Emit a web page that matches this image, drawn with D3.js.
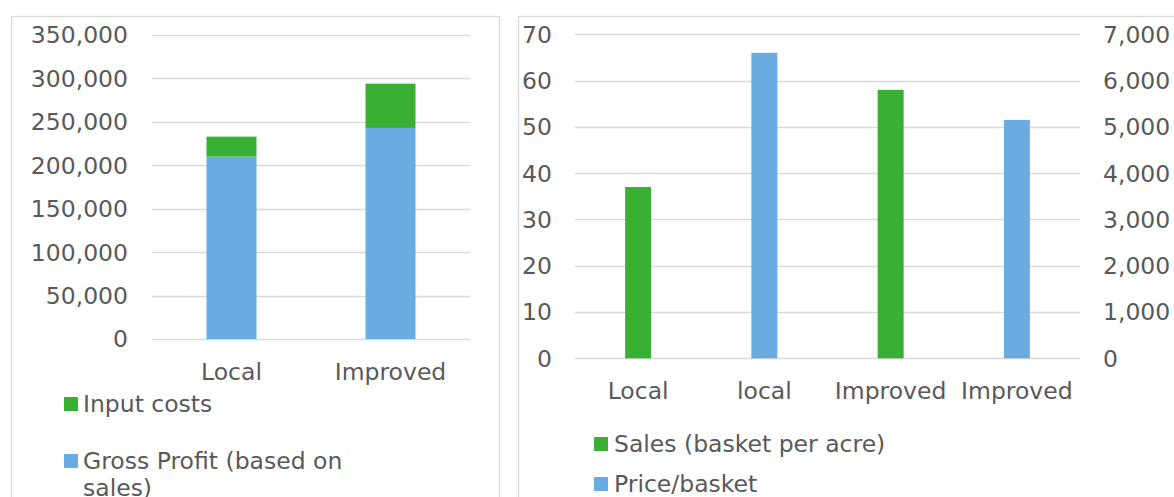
<!DOCTYPE html>
<html>
<head>
<meta charset="utf-8">
<script src="https://cdn.jsdelivr.net/npm/d3@7"></script>
<style>
  html, body { margin: 0; padding: 0; background: #ffffff; }
  svg { display: block; }
  text { font-family: "DejaVu Sans", Verdana, sans-serif; fill: #595959; }
</style>
</head>
<body>
<svg id="chart" width="1174" height="497"></svg>
<script>
// ---- Data: left chart (stacked) ----
const leftCategories = ["Local", "Improved"];
const grossProfit = [210000, 243000];
const inputCosts = [23000, 51000];
const leftTicks = [0, 50000, 100000, 150000, 200000, 250000, 300000, 350000];

// ---- Data: right chart (dual axis) ----
const rightCategories = ["Local", "local", "Improved", "Improved"];
const salesBaskets = [37, null, 58, null];          // primary axis
const pricePerBasket = [null, 6600, null, 5150];    // secondary axis
const rightTicksPrimary = [0, 10, 20, 30, 40, 50, 60, 70];
const rightTicksSecondary = [0, 1000, 2000, 3000, 4000, 5000, 6000, 7000];

const GREEN = "#37b034";
const BLUE = "#6aace2";
const GRID = "#d9d9d9";
const FS = "23.5px";
const fmt = d3.format(",");

const svg = d3.select("#chart");

// Panel borders
svg.append("rect").attr("x", 11.5).attr("y", 16.5).attr("width", 488).attr("height", 500)
  .attr("fill", "none").attr("stroke", GRID).attr("stroke-width", 1.3);
svg.append("rect").attr("x", 518.5).attr("y", 16.5).attr("width", 700).attr("height", 500)
  .attr("fill", "none").attr("stroke", GRID).attr("stroke-width", 1.3);

// ================= LEFT CHART =================
(function () {
  const x0 = 152, x1 = 470, yTop = 35, yBot = 339;
  const y = d3.scaleLinear().domain([0, 350000]).range([yBot, yTop]);
  const x = d3.scaleBand().domain(leftCategories).range([x0, x1])
    .paddingInner(1 - 50 / 159).paddingOuter((1 - 50 / 159) / 2);
  const g = svg.append("g");

  g.selectAll("line.grid").data(leftTicks).join("line")
    .attr("x1", x0).attr("x2", x1)
    .attr("y1", d => Math.round(y(d)) + 0.5).attr("y2", d => Math.round(y(d)) + 0.5)
    .attr("stroke", GRID).attr("stroke-width", 1.5);

  g.selectAll("text.ytick").data(leftTicks).join("text")
    .attr("x", 128).attr("y", d => y(d)).attr("dy", "0.36em")
    .attr("text-anchor", "end").style("font-size", FS)
    .text(d => fmt(d));

  const stackData = leftCategories.map((c, i) => ({ cat: c, gp: grossProfit[i], ic: inputCosts[i] }));
  const stack = d3.stack().keys(["gp", "ic"])(stackData);
  const colors = { gp: BLUE, ic: GREEN };
  stack.forEach(layer => {
    g.selectAll(null).data(layer).join("rect")
      .attr("x", d => x(d.data.cat))
      .attr("width", x.bandwidth())
      .attr("y", d => y(d[1]))
      .attr("height", d => y(d[0]) - y(d[1]))
      .attr("fill", colors[layer.key]);
  });

  g.selectAll("text.xtick").data(leftCategories).join("text")
    .attr("x", d => x(d) + x.bandwidth() / 2).attr("y", 380)
    .attr("text-anchor", "middle").style("font-size", FS)
    .text(d => d);

  const leg = [
    { label: ["Input costs"], color: GREEN, y: 397 },
    { label: ["Gross Profit (based on", "sales)"], color: BLUE, y: 454 }
  ];
  leg.forEach(l => {
    g.append("rect").attr("x", 64).attr("y", l.y).attr("width", 14).attr("height", 14).attr("fill", l.color);
    l.label.forEach((t, j) => {
      g.append("text").attr("x", 83).attr("y", l.y + 14.5 + j * 27)
        .style("font-size", FS).text(t);
    });
  });
})();

// ================= RIGHT CHART =================
(function () {
  const x0 = 575, x1 = 1080, yTop = 34.3, yBot = 358.3;
  const yL = d3.scaleLinear().domain([0, 70]).range([yBot, yTop]);
  const yR = d3.scaleLinear().domain([0, 7000]).range([yBot, yTop]);
  const step = (x1 - x0) / rightCategories.length;
  const idx = rightCategories.map((c, i) => i);
  const x = d3.scaleBand().domain(idx).range([x0, x1])
    .paddingInner(1 - 26 / step).paddingOuter((1 - 26 / step) / 2);
  const g = svg.append("g");

  g.selectAll("line.grid").data(rightTicksPrimary).join("line")
    .attr("x1", x0).attr("x2", x1)
    .attr("y1", d => Math.round(yL(d)) + 0.5).attr("y2", d => Math.round(yL(d)) + 0.5)
    .attr("stroke", GRID).attr("stroke-width", 1.5);

  g.selectAll("text.yl").data(rightTicksPrimary).join("text")
    .attr("x", 552).attr("y", d => yL(d)).attr("dy", "0.36em")
    .attr("text-anchor", "end").style("font-size", FS)
    .text(d => fmt(d));

  g.selectAll("text.yr").data(rightTicksSecondary).join("text")
    .attr("x", 1103).attr("y", d => yR(d)).attr("dy", "0.36em")
    .attr("text-anchor", "start").style("font-size", FS)
    .text(d => fmt(d));

  g.selectAll("rect.sales").data(idx.filter(i => salesBaskets[i] != null)).join("rect")
    .attr("x", i => x(i)).attr("width", x.bandwidth())
    .attr("y", i => yL(salesBaskets[i])).attr("height", i => yBot - yL(salesBaskets[i]))
    .attr("fill", GREEN);

  g.selectAll("rect.price").data(idx.filter(i => pricePerBasket[i] != null)).join("rect")
    .attr("x", i => x(i)).attr("width", x.bandwidth())
    .attr("y", i => yR(pricePerBasket[i])).attr("height", i => yBot - yR(pricePerBasket[i]))
    .attr("fill", BLUE);

  g.selectAll("text.xtick").data(idx).join("text")
    .attr("x", i => x(i) + x.bandwidth() / 2).attr("y", 398.5)
    .attr("text-anchor", "middle").style("font-size", FS)
    .text(i => rightCategories[i]);

  const leg = [
    { label: "Sales (basket per acre)", color: GREEN, y: 437 },
    { label: "Price/basket", color: BLUE, y: 477 }
  ];
  leg.forEach(l => {
    g.append("rect").attr("x", 594).attr("y", l.y).attr("width", 14).attr("height", 14).attr("fill", l.color);
    g.append("text").attr("x", 614).attr("y", l.y + 14.5).style("font-size", FS).text(l.label);
  });
})();
</script>
</body>
</html>
